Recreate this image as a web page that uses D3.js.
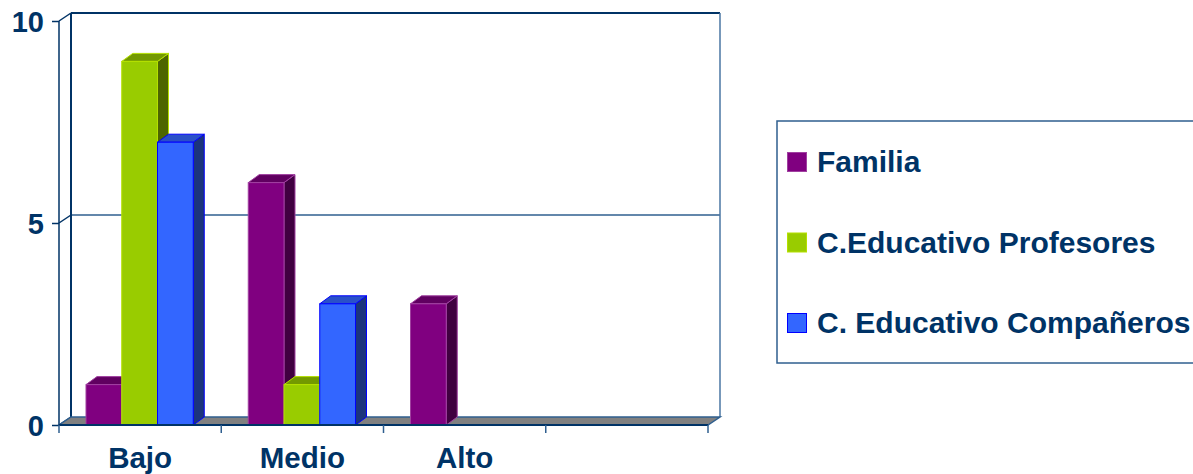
<!DOCTYPE html>
<html><head><meta charset="utf-8">
<script src="https://cdn.jsdelivr.net/npm/d3@7"></script>
<style>body{margin:0;background:#fff}svg{display:block}text{font-family:"Liberation Sans",Arial,sans-serif;font-weight:bold;fill:#003366}</style>
</head><body>
<script>
const categories = ["Bajo", "Medio", "Alto", ""];
const seriesNames = ["Familia", "C.Educativo Profesores", "C. Educativo Compañeros"];
const familia = [1, 6, 3, 0];
const profesores = [9, 1, 0, 0];
const companeros = [7, 3, 0, 0];
const yTicks = [0, 5, 10];

const seriesValues = [familia, profesores, companeros];
const colors = [
  {front:"#800080", top:"#600060", side:"#400040", stroke:"#a040a0"},
  {front:"#99cc00", top:"#739900", side:"#4d6600", stroke:"#b5e000"},
  {front:"#3366ff", top:"#2a50c8", side:"#1c347c", stroke:"#0000ff"}
];

const W = 1193, H = 474;
const svg = d3.select("body").append("svg").attr("width", W).attr("height", H);
const navy = "#003366";

const x0 = 59, x1 = 708;
const dx = 12, dy = -8;   // wall depth
const bdx = 11, bdy = -8; // bar depth
const y = d3.scaleLinear().domain([0, 10]).range([425, 21]);
const xCat = d3.scaleBand().domain(categories).range([x0, x1]).paddingInner(0).paddingOuter(0);
const xSer = d3.scaleBand().domain(seriesNames).range([27, xCat.bandwidth() - 28]);

const g = svg.append("g");
yTicks.filter(t => t > 0 && t < 10).forEach(t => {
  g.append("line").attr("x1", x0 + dx).attr("x2", x1 + dx).attr("y1", y(t) + dy).attr("y2", y(t) + dy)
    .attr("stroke", "#2f5f8f").attr("stroke-width", 1.3);
});
g.append("line").attr("x1", x0 + dx).attr("x2", x1 + dx).attr("y1", y(10) + dy).attr("y2", y(10) + dy)
  .attr("stroke", navy).attr("stroke-width", 2);
g.append("line").attr("x1", x1 + dx).attr("x2", x1 + dx).attr("y1", y(10) + dy).attr("y2", y(0) + dy)
  .attr("stroke", "#4a76a3").attr("stroke-width", 1.5);
g.append("line").attr("x1", x0 + dx).attr("x2", x0 + dx).attr("y1", y(10) + dy).attr("y2", y(0) + dy)
  .attr("stroke", navy).attr("stroke-width", 2);
yTicks.forEach(t => {
  g.append("line").attr("x1", x0).attr("x2", x0 + dx).attr("y1", y(t)).attr("y2", y(t) + dy)
    .attr("stroke", navy).attr("stroke-width", 1.5);
});
g.append("line").attr("x1", x0).attr("x2", x0).attr("y1", y(10)).attr("y2", y(0))
  .attr("stroke", navy).attr("stroke-width", 1.5);

g.append("path")
  .attr("d", `M${x0},${y(0)}L${x1},${y(0)}L${x1 + dx},${y(0) + dy}L${x0 + dx},${y(0) + dy}Z`)
  .attr("fill", "#808080").attr("stroke", "#2f5f8f").attr("stroke-width", 1.5);

const yAxis = d3.axisLeft(y).tickValues(yTicks).tickSize(7).tickFormat(d3.format("d"));
const ya = svg.append("g").attr("transform", `translate(${x0},0)`).call(yAxis);
ya.select(".domain").remove();
ya.selectAll(".tick line").attr("stroke", navy).attr("stroke-width", 1.5);
ya.selectAll(".tick text").attr("x", -15).attr("dy", null).attr("y", 10)
  .style("font-size", "29px").style("font-family", '"Liberation Sans",Arial,sans-serif')
  .style("font-weight", "bold").attr("fill", navy);

const bars = svg.append("g");
categories.forEach((c, ci) => {
  seriesNames.forEach((s, si) => {
    const v = seriesValues[si][ci];
    if (!v) return;
    const bx = xCat(c) + xSer(s), bw = xSer.bandwidth();
    const yt = y(v), yb = y(0);
    const col = colors[si];
    const bg = bars.append("g").attr("stroke", col.stroke).attr("stroke-width", 1).attr("stroke-linejoin", "miter");
    bg.append("path").attr("d", `M${bx + bw},${yb}L${bx + bw + bdx},${yb + bdy}L${bx + bw + bdx},${yt + bdy}L${bx + bw},${yt}Z`).attr("fill", col.side);
    bg.append("path").attr("d", `M${bx},${yt}L${bx + bdx},${yt + bdy}L${bx + bw + bdx},${yt + bdy}L${bx + bw},${yt}Z`).attr("fill", col.top);
    bg.append("rect").attr("x", bx).attr("y", yt).attr("width", bw).attr("height", yb - yt).attr("fill", col.front);
  });
});

const xa = svg.append("g").attr("transform", `translate(0,${y(0)})`);
xa.append("line").attr("x1", x0).attr("x2", x1).attr("stroke", navy).attr("stroke-width", 2);
const tickPos = categories.map(c => xCat(c)).concat([x1]);
xa.selectAll("line.tk").data(tickPos).join("line").attr("class", "tk")
  .attr("x1", d => d).attr("x2", d => d).attr("y1", 0).attr("y2", 8)
  .attr("stroke", "#2f5f8f").attr("stroke-width", 1.5);
xa.selectAll("text").data(categories).join("text")
  .attr("x", d => xCat(d) + xCat.bandwidth() / 2).attr("y", 43)
  .attr("text-anchor", "middle").style("font-size", "29.5px").text(d => d);

const lg = svg.append("g");
lg.append("rect").attr("x", 777).attr("y", 121).attr("width", 440).attr("height", 242)
  .attr("fill", "none").attr("stroke", "#2f5f8f").attr("stroke-width", 1.5);
seriesNames.forEach((s, i) => {
  const ly = 152 + i * 80.5;
  lg.append("rect").attr("x", 787.5).attr("y", ly + 0.5).attr("width", 19).attr("height", 19)
    .attr("fill", colors[i].front).attr("stroke", colors[i].stroke).attr("stroke-width", 1);
  lg.append("text").attr("x", 817).attr("y", ly + 20).style("font-size", "30px").text(s);
});
</script>
</body></html>
